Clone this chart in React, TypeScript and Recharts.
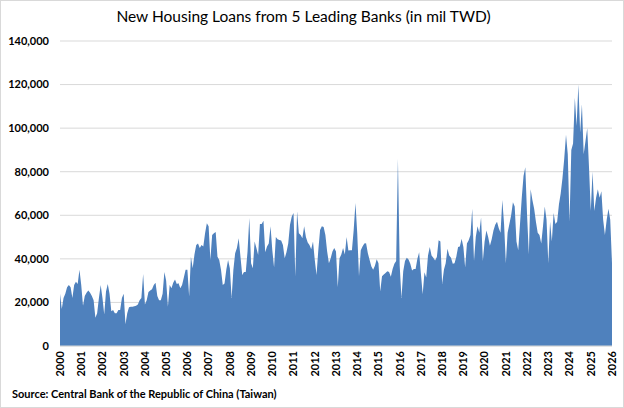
import { AreaChart, Area, XAxis, YAxis, CartesianGrid } from 'recharts';

// monthly new housing loans, mil TWD, Jan of first year onward
const loans2000to2004 = [
  24000, 17000, 22000, 24000, 27000, 28000, 27000, 22000, 28000, 29500, 28500, 35000,
  28000, 18500, 23000, 24500, 25500, 24500, 23000, 21000, 13000, 15000, 22000, 28000,
  22000, 14500, 25000, 28500, 24000, 16000, 16500, 15000, 15000, 16500, 16500, 22000,
  24000, 10000, 15000, 17800, 18000, 18000, 18200, 18500, 19000, 21000, 22000, 33000,
  19000, 21000, 24800, 25500, 26000, 28000, 29000, 23000, 21000, 21000, 24000, 34000,
];
const loans2005to2009 = [
  30000, 18000, 28000, 26500, 29000, 30500, 28500, 28800, 26500, 28000, 31500, 35000,
  35000, 22700, 41000, 35700, 42000, 46400, 47000, 45000, 46400, 45700, 51800, 56400,
  55000, 39500, 51000, 51800, 52300, 41000, 39500, 35000, 28000, 28700, 35000, 39500,
  35700, 22000, 35000, 42600, 45000, 49500, 41000, 32600, 34000, 34000, 43400, 58700,
  38000, 35700, 48000, 45000, 41800, 56000, 56000, 57500, 43000, 45700, 47000, 55000,
];
const loans2010to2014 = [
  44000, 36000, 50000, 49000, 48700, 48400, 46400, 40300, 43000, 47000, 55600, 59500,
  61000, 32000, 61800, 51800, 51000, 49500, 55000, 50000, 47500, 46400, 44400, 48000,
  39500, 32600, 44000, 53300, 55000, 54600, 51000, 43400, 38000, 40300, 43400, 45000,
  43400, 27000, 40300, 42000, 45000, 42000, 50000, 43800, 44000, 44000, 53300, 65600,
  51800, 32000, 44000, 45700, 47000, 47200, 42600, 39500, 36500, 35000, 36800, 39800,
];
const loans2015to2019 = [
  38000, 25000, 32000, 32800, 33500, 34300, 34000, 31800, 35400, 37700, 39000, 86000,
  37000, 22000, 34300, 39000, 40500, 39700, 37700, 34600, 35400, 35400, 40000, 43000,
  33000, 23800, 33800, 31500, 41500, 45400, 41500, 40500, 39200, 40800, 48500, 48000,
  28500, 35000, 38000, 44600, 41500, 40500, 37700, 38000, 41000, 45400, 45700, 49200,
  45400, 36000, 47000, 48500, 51000, 63000, 39000, 50000, 55000, 52000, 59000, 39000,
];
const loans2020to2026 = [
  48000, 53000, 50000, 46000, 49000, 53000, 55600, 57000, 54000, 52000, 67000, 56000,
  38000, 52000, 56000, 60000, 66000, 64000, 48000, 44000, 56000, 68000, 78000, 82000,
  60000, 42000, 72000, 67000, 63000, 57000, 52000, 51000, 47000, 55000, 64000, 58000,
  38000, 57000, 48000, 61000, 56000, 57000, 65000, 70000, 77000, 86000, 97000, 88000,
  57000, 90000, 93000, 114000, 101000, 120000, 98000, 111000, 88000, 94000, 100000, 82000,
  62000, 80000, 62000, 68000, 72000, 68000, 71000, 58000, 51000, 58000, 63000, 58000,
  38000,
];

const years = [
  2000, 2001, 2002, 2003, 2004, 2005, 2006, 2007, 2008, 2009, 2010, 2011, 2012, 2013,
  2014, 2015, 2016, 2017, 2018, 2019, 2020, 2021, 2022, 2023, 2024, 2025, 2026,
];
const yTicks = [0, 20000, 40000, 60000, 80000, 100000, 120000, 140000];

const monthly = [
  ...loans2000to2004,
  ...loans2005to2009,
  ...loans2010to2014,
  ...loans2015to2019,
  ...loans2020to2026,
];
const data = monthly.map((v, i) => ({ month: i, loans: v }));
const xTicks = years.map((y) => (y - years[0]) * 12);

const font = 'Lato, "Open Sans", sans-serif';

function YearTick({ x, y, payload }: any) {
  return (
    <text
      x={0}
      y={0}
      dy="0.35em"
      textAnchor="end"
      transform={`translate(${x},${y - 3}) rotate(-90)`}
      fontSize={11}
      fontWeight={700}
      fontFamily={font}
      fill="#000"
    >
      {years[0] + payload.value / 12}
    </text>
  );
}

export default function App() {
  return (
    <div style={{ position: 'fixed', left: 0, top: 0, width: 624, height: 408, background: '#fff', fontFamily: font }}>
      <div
        style={{
          position: 'absolute',
          left: 0,
          top: 0,
          width: 624,
          height: 408,
          border: '1px solid #d9d9d9',
          boxSizing: 'border-box',
          pointerEvents: 'none',
        }}
      />
      <div
        style={{
          position: 'absolute',
          left: 0,
          width: 607,
          top: 7,
          textAlign: 'center',
          fontSize: 15.5,
          color: '#000',
        }}
      >
        New Housing Loans from 5 Leading Banks (in mil TWD)
      </div>
      <AreaChart width={624} height={408} data={data} margin={{ top: 41, right: 12, bottom: 0, left: 0 }}>
        <CartesianGrid vertical={false} stroke="#d9d9d9" />
        <XAxis
          dataKey="month"
          type="number"
          domain={[0, 312]}
          ticks={xTicks}
          interval={0}
          height={62}
          tickLine={false}
          axisLine={{ stroke: '#d9d9d9' }}
          tick={<YearTick />}
        />
        <YAxis
          domain={[0, 140000]}
          ticks={yTicks}
          width={60}
          tickLine={false}
          axisLine={false}
          tickMargin={5}
          tickFormatter={(v: number) => v.toLocaleString('en-US')}
          tick={{ fontSize: 11, fontWeight: 700, fill: '#000', fontFamily: font }}
        />
        <Area
          type="linear"
          dataKey="loans"
          stroke="none"
          fill="#4f81bd"
          fillOpacity={1}
          isAnimationActive={false}
        />
      </AreaChart>
      <div
        style={{
          position: 'absolute',
          left: 12,
          top: 387,
          fontSize: 11,
          fontWeight: 700,
          color: '#000',
        }}
      >
        Source: Central Bank of the Republic of China (Taiwan)
      </div>
    </div>
  );
}
